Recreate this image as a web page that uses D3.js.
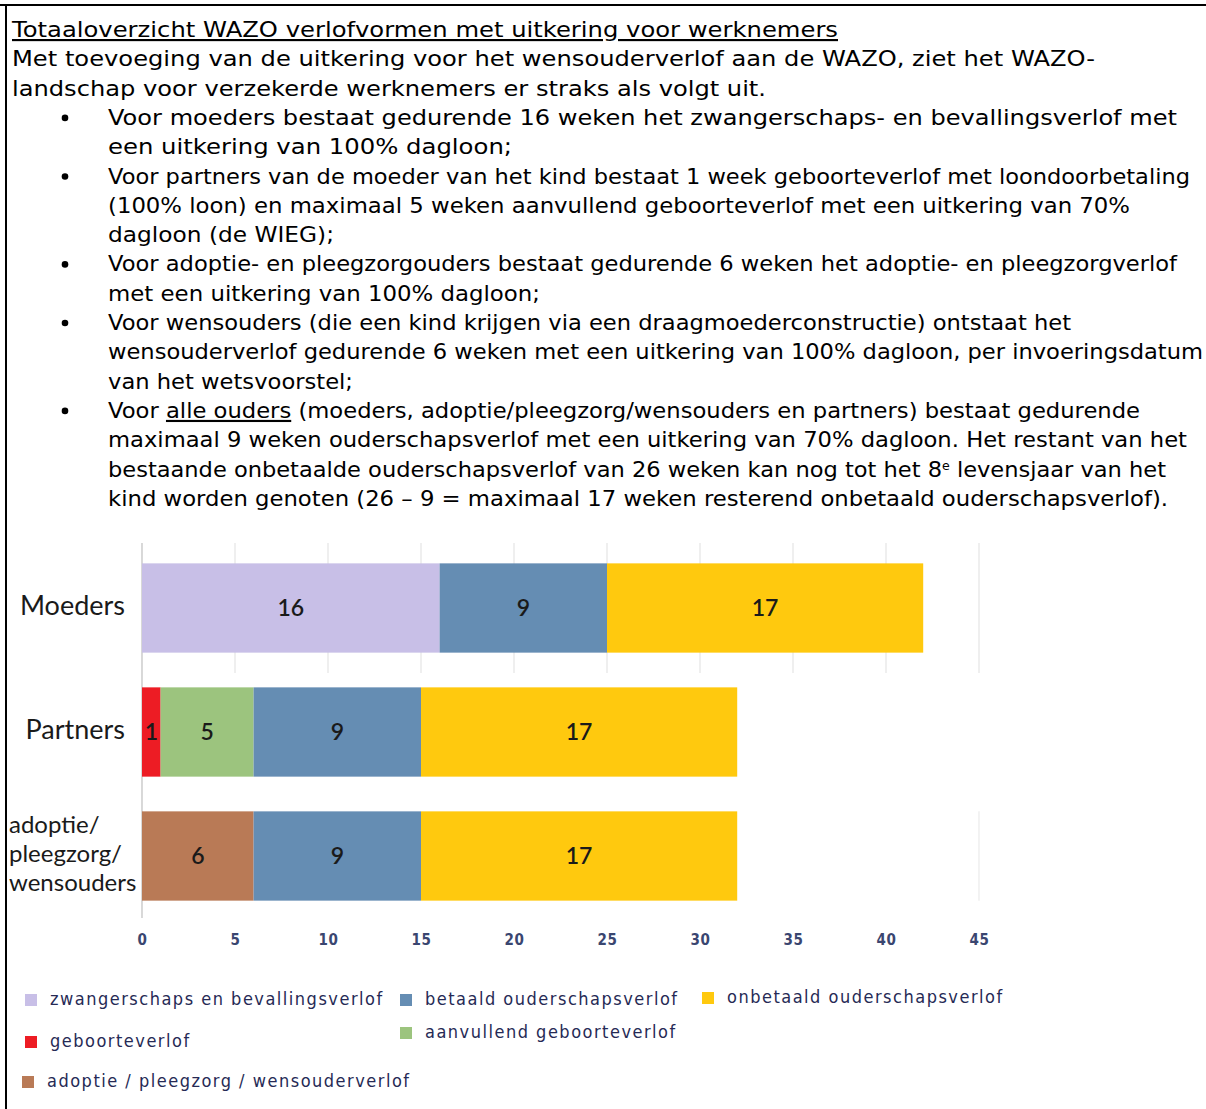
<!DOCTYPE html>
<html>
<head>
<meta charset="utf-8">
<script src="https://cdn.jsdelivr.net/npm/d3@7"></script>
<style>
  body { margin: 0; background: #fff; }
  svg { display: block; }
</style>
</head>
<body>
<svg id="page" width="1206" height="1109"></svg>
<script>
// chart data
const categories = ["Moeders", "Partners", "adoptie/ pleegzorg/ wensouders"];
const seriesKeys = ["zwangerschap", "geboorte", "aanvullend", "adoptie", "betaald", "onbetaald"];
const zwangerschap = [16, 0, 0];
const geboorte = [0, 1, 0];
const aanvullend = [0, 5, 0];
const adoptie = [0, 0, 6];
const betaald = [9, 9, 9];
const onbetaald = [17, 17, 17];
const xTicks = [0, 5, 10, 15, 20, 25, 30, 35, 40, 45];
const legendLabels = {
    zwangerschap: "zwangerschaps en bevallingsverlof",
    betaald: "betaald ouderschapsverlof",
    onbetaald: "onbetaald ouderschapsverlof",
    geboorte: "geboorteverlof",
    aanvullend: "aanvullend geboorteverlof",
    adoptie: "adoptie / pleegzorg / wensouderverlof"
};
const colors = {
    zwangerschap: "#c8bfe7",
    geboorte: "#ed1c24",
    aanvullend: "#9cc47e",
    adoptie: "#b97a56",
    betaald: "#658db3",
    onbetaald: "#ffc90e"
};

// text above the chart
const title = "Totaaloverzicht WAZO verlofvormen met uitkering voor werknemers";
const intro = [
    "Met toevoeging van de uitkering voor het wensouderverlof aan de WAZO, ziet het WAZO-",
    "landschap voor verzekerde werknemers er straks als volgt uit."
];
const bullets = [
    ["Voor moeders bestaat gedurende 16 weken het zwangerschaps- en bevallingsverlof met",
     "een uitkering van 100% dagloon;"],
    ["Voor partners van de moeder van het kind bestaat 1 week geboorteverlof met loondoorbetaling",
     "(100% loon) en maximaal 5 weken aanvullend geboorteverlof met een uitkering van 70%",
     "dagloon (de WIEG);"],
    ["Voor adoptie- en pleegzorgouders bestaat gedurende 6 weken het adoptie- en pleegzorgverlof",
     "met een uitkering van 100% dagloon;"],
    ["Voor wensouders (die een kind krijgen via een draagmoederconstructie) ontstaat het",
     "wensouderverlof gedurende 6 weken met een uitkering van 100% dagloon, per invoeringsdatum",
     "van het wetsvoorstel;"],
    ["Voor |alle ouders| (moeders, adoptie/pleegzorg/wensouders en partners) bestaat gedurende",
     "maximaal 9 weken ouderschapsverlof met een uitkering van 70% dagloon. Het restant van het",
     "bestaande onbetaalde ouderschapsverlof van 26 weken kan nog tot het 8^e^ levensjaar van het",
     "kind worden genoten (26 – 9 = maximaal 17 weken resterend onbetaald ouderschapsverlof)."]
];
// right edge of every text line in the source, in reading order (layout)
const lineEnds = [838, 1095, 766, 1177, 512, 1190, 1130, 334, 1177, 540, 1071, 1203, 353, 1140, 1187, 1166, 1168];

const svg = d3.select("#page");
const docFont = "'DejaVu Sans', Verdana, sans-serif";
const lineH = 29.3;
const firstY = 37;

// page frame
svg.append("line").attr("x1", 0).attr("x2", 1206).attr("y1", 5).attr("y2", 5)
    .attr("stroke", "#000").attr("stroke-width", 2);
svg.append("line").attr("x1", 6).attr("x2", 6).attr("y1", 4).attr("y2", 1109)
    .attr("stroke", "#000").attr("stroke-width", 2);

const doc = svg.append("g")
    .style("font-family", docFont)
    .style("font-size", "21.5px")
    .attr("fill", "#000");

let lineNo = 0;
function docLine(x, y) {
    const t = doc.append("text").attr("x", x).attr("y", y)
        .attr("textLength", lineEnds[lineNo] - x)
        .attr("lengthAdjust", "spacingAndGlyphs");
    lineNo++;
    return t;
}

// write a line, |..| = underlined, ^..^ = superscript
function richLine(sel, str) {
    str.split(/(\|[^|]+\||\^[^^]+\^)/).forEach(part => {
        if (!part) return;
        if (part.startsWith("|")) {
            sel.append("tspan").style("text-decoration", "underline").text(part.slice(1, -1));
        } else if (part.startsWith("^")) {
            sel.append("tspan").attr("baseline-shift", "super").style("font-size", "12px").text(part.slice(1, -1));
        } else {
            sel.append("tspan").text(part);
        }
    });
}

docLine(12, firstY).style("text-decoration", "underline").text(title);
intro.forEach((t, i) => docLine(12, firstY + lineH * (i + 1)).text(t));

let row = 3;
bullets.forEach(lines => {
    doc.append("circle")
        .attr("cx", 65).attr("cy", firstY + lineH * row - 7).attr("r", 3.3)
        .attr("fill", "#000");
    lines.forEach(l => {
        richLine(docLine(108, firstY + lineH * row), l);
        row++;
    });
});

// + CHART
const xScale = d3.scaleLinear().domain([0, 45]).range([142, 979]);
const yScale = d3.scaleBand().domain(categories).range([546, 918])
    .paddingInner(0.28).paddingOuter(0.14);

const table = categories.map((c, i) => ({
    category: c,
    zwangerschap: zwangerschap[i],
    geboorte: geboorte[i],
    aanvullend: aanvullend[i],
    adoptie: adoptie[i],
    betaald: betaald[i],
    onbetaald: onbetaald[i]
}));
const stacked = d3.stack().keys(seriesKeys)(table);

const chart = svg.append("g");

// gridlines (only visible behind the top row in the source)
chart.append("g")
    .selectAll("line")
    .data(xTicks.slice(1))
    .join("line")
    .attr("x1", d => xScale(d)).attr("x2", d => xScale(d))
    .attr("y1", 543).attr("y2", 673)
    .attr("stroke", "#e6e6e6").attr("stroke-width", 1.3);
chart.append("line")
    .attr("x1", xScale(45)).attr("x2", xScale(45))
    .attr("y1", yScale(categories[2])).attr("y2", yScale(categories[2]) + yScale.bandwidth())
    .attr("stroke", "#ececec").attr("stroke-width", 1.3);

chart.append("line")
    .attr("x1", xScale(0)).attr("x2", xScale(0))
    .attr("y1", 543).attr("y2", 918)
    .attr("stroke", "#c4c4c4").attr("stroke-width", 1.3);

const layers = chart.selectAll("g.layer")
    .data(stacked)
    .join("g")
    .attr("class", "layer")
    .attr("fill", d => colors[d.key]);

layers.selectAll("rect")
    .data(d => d.filter(s => s[1] > s[0]))
    .join("rect")
    .attr("x", d => xScale(d[0]))
    .attr("width", d => xScale(d[1]) - xScale(d[0]))
    .attr("y", d => yScale(d.data.category))
    .attr("height", yScale.bandwidth());

layers.selectAll("text")
    .data(d => d.filter(s => s[1] > s[0]))
    .join("text")
    .attr("x", d => (xScale(d[0]) + xScale(d[1])) / 2)
    .attr("y", d => yScale(d.data.category) + yScale.bandwidth() / 2 + 2)
    .attr("text-anchor", "middle")
    .attr("dominant-baseline", "middle")
    .attr("fill", "#1a1a1a")
    .style("font-family", "Lato, 'Open Sans', sans-serif")
    .style("font-size", "23px")
    .style("font-weight", "600")
    .text(d => d[1] - d[0]);

// category labels
const catLabels = chart.append("g")
    .style("font-family", "Lato, 'Open Sans', sans-serif")
    .attr("fill", "#1a1a1a");
categories.forEach(c => {
    const parts = c.split(" ");
    const cy = yScale(c) + yScale.bandwidth() / 2;
    if (parts.length === 1) {
        catLabels.append("text")
            .attr("x", 125).attr("y", cy).attr("text-anchor", "end")
            .attr("dominant-baseline", "middle")
            .style("font-size", "27px")
            .text(c);
    } else {
        parts.forEach((p, i) => {
            catLabels.append("text")
                .attr("x", 9).attr("y", cy + (i - 1) * 29)
                .attr("dominant-baseline", "middle")
                .style("font-size", "24px")
                .text(p);
        });
    }
});

// + AXES
const xAxis = d3.axisBottom(xScale).tickValues(xTicks).tickSize(0).tickPadding(0);
const axisG = chart.append("g")
    .attr("transform", "translate(0,934)")
    .call(xAxis);
axisG.select(".domain").remove();
axisG.selectAll("text")
    .attr("fill", "#3a4670")
    .style("font-family", "'DejaVu Sans Condensed', 'DejaVu Sans', sans-serif")
    .style("font-size", "15px")
    .style("font-weight", "bold")
    .style("letter-spacing", "0.5px");

// legend
const legendPos = [
    { key: "zwangerschap", x: 25, y: 1000 },
    { key: "betaald", x: 400, y: 1000 },
    { key: "onbetaald", x: 702, y: 998 },
    { key: "geboorte", x: 25, y: 1042 },
    { key: "aanvullend", x: 400, y: 1033 },
    { key: "adoptie", x: 22, y: 1082 }
];
const legend = chart.append("g")
    .selectAll("g")
    .data(legendPos)
    .join("g")
    .attr("transform", d => `translate(${d.x},${d.y})`);
legend.append("rect")
    .attr("x", 0).attr("y", -6).attr("width", 12).attr("height", 12)
    .attr("fill", d => colors[d.key]);
legend.append("text")
    .attr("x", 25).attr("y", 0)
    .attr("dominant-baseline", "middle")
    .attr("fill", "#262a55")
    .style("font-family", "'DejaVu Sans Condensed', 'DejaVu Sans', sans-serif")
    .style("font-size", "18px")
    .style("letter-spacing", "1.5px")
    .text(d => legendLabels[d.key]);
</script>
</body>
</html>
